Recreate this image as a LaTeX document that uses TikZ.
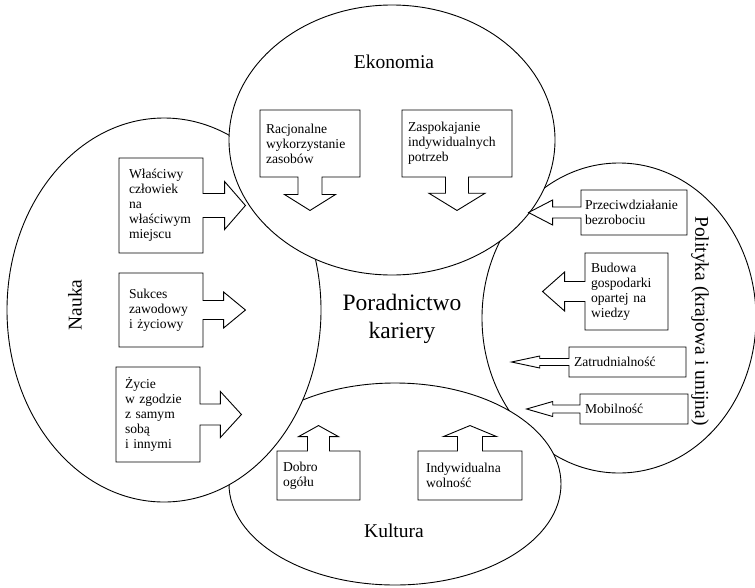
\documentclass[tikz,border=0pt]{standalone}
\usepackage{fontspec}
\setmainfont{Liberation Serif}
\usetikzlibrary{shapes,positioning}

\begin{document}
\begin{tikzpicture}[x=1pt,y=-1pt,line width=0.9pt,
            area/.style={draw,fill=white},
            title/.style={font=\fontsize{19.5}{22}\selectfont},
            cell/.style={arrow box,draw,fill=white,align=left,inner xsep=6pt,inner ysep=2pt,
              font=\fontsize{13.6}{15}\selectfont,arrow box head indent=0pt,
              arrow box north arrow=-1pt,arrow box south arrow=-1pt,
              arrow box east arrow=-1pt,arrow box west arrow=-1pt},
            arrS/.style n args={4}{arrow box south arrow=#1,arrow box shaft width=#2,arrow box head extend=#3,arrow box tip angle=#4},
            arrN/.style n args={4}{arrow box north arrow=#1,arrow box shaft width=#2,arrow box head extend=#3,arrow box tip angle=#4},
            arrE/.style n args={4}{arrow box east arrow=#1,arrow box shaft width=#2,arrow box head extend=#3,arrow box tip angle=#4},
            arrW/.style n args={4}{arrow box west arrow=#1,arrow box shaft width=#2,arrow box head extend=#3,arrow box tip angle=#4}]
  \useasboundingbox (0,0) rectangle (755,587);

  \draw[area] (619,318) ellipse [x radius=137pt,y radius=155pt];
  \draw[area] (395,484) ellipse [x radius=166pt,y radius=101pt];
  \draw[area] (164,310) ellipse [x radius=157pt,y radius=192pt];
  \draw[area] (392,140) ellipse [x radius=163pt,y radius=135pt];

  \node[title] (eko) at (394,62) {Ekonomia};
  \node[title] (kult) at (394,531) {Kultura};
  \node[title,rotate=90] (nauka) at (75,305) {Nauka};
  \node[title,rotate=-90] (pol) at (700,321) {Polityka (krajowa i unijna)};
  \node[align=center,font=\fontsize{23.5}{28}\selectfont] (pk) at (402,319) {Poradnictwo\\kariery};

  \node[cell,text width=88pt,minimum height=67pt,arrS={33pt}{24pt}{13.5pt}{116}] (rac) at (310,143.5)
    {Racjonalne\\wykorzystanie\\zasobów};
  \node[cell,text width=98pt,minimum height=67pt,arrS={33pt}{23pt}{16.5pt}{117}] (zasp) at (457,143.5)
    {Zaspokajanie\\indywidualnych\\potrzeb};
  \node[cell,inner xsep=10pt,text width=64pt,minimum height=95pt,arrE={42pt}{24pt}{12pt}{98}] (wlasc) at (161,205.5)
    {Właściwy\\człowiek\\na\\właściwym\\miejscu};
  \node[cell,inner xsep=10pt,text width=64pt,minimum height=74pt,arrE={42pt}{19pt}{8.5pt}{79}] (sukc) at (161,310)
    {Sukces\\zawodowy\\i życiowy};
  \node[cell,inner xsep=9pt,text width=66pt,minimum height=95pt,arrE={41pt}{21pt}{12.5pt}{95}] (zycie) at (158,414.5)
    {Życie\\w zgodzie\\z samym\\sobą\\i innymi};
  \node[cell,inner xsep=4pt,text width=98pt,minimum height=45pt,arrW={52pt}{11pt}{7pt}{55}] (przec) at (634,212.5)
    {Przeciwdziałanie\\bezrobociu};
  \node[cell,text width=71pt,minimum height=77pt,arrW={42pt}{20pt}{9.5pt}{83}] (bud) at (626.5,291.5)
    {Budowa\\gospodarki\\opartej na\\wiedzy};
  \node[cell,inner xsep=5pt,text width=107pt,minimum height=30pt,arrW={57pt}{7pt}{2.5pt}{24}] (zatr) at (627.5,362)
    {Zatrudnialność};
  \node[cell,inner xsep=5pt,text width=98pt,minimum height=30pt,arrW={53pt}{8pt}{3.5pt}{32}] (mob) at (634,409)
    {Mobilność};
  \node[cell,text width=71pt,minimum height=49pt,arrN={25pt}{22pt}{9pt}{122}] (dobro) at (318.5,475.5)
    {Dobro\\ogółu};
  \node[cell,inner xsep=8pt,text width=88pt,minimum height=49pt,arrN={25pt}{25pt}{14pt}{135}] (indyw) at (470,475.5)
    {Indywidualna\\wolność};
\end{tikzpicture}
\end{document}
